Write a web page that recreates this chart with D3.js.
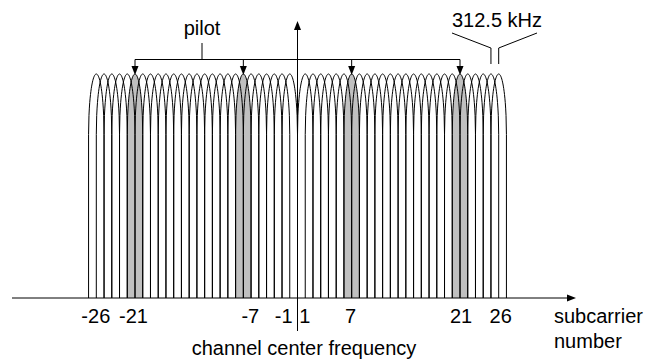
<!DOCTYPE html>
<html>
<head>
<meta charset="utf-8">
<script src="https://cdn.jsdelivr.net/npm/d3@7"></script>
<style>
  body { margin: 0; background: #fff; }
  text { font-family: "Liberation Sans", Arial, sans-serif; font-size: 20px; fill: #000; }
</style>
</head>
<body>
<div id="chart"></div>
<script>
// subcarrier indices (no DC carrier at 0)
const subcarriers = [-26, -25, -24, -23, -22, -21, -20, -19, -18, -17, -16, -15, -14,
  -13, -12, -11, -10, -9, -8, -7, -6, -5, -4, -3, -2, -1,
  1, 2, 3, 4, 5, 6, 7, 8, 9, 10, 11, 12, 13,
  14, 15, 16, 17, 18, 19, 20, 21, 22, 23, 24, 25, 26];
const pilots = [-21, -7, 7, 21];
const tickLabels = [-26, -21, -7, -1, 1, 7, 21, 26];
const spacingLabel = '312.5 kHz';
const spacingPair = [25, 26];

const width = 645;
const height = 361;

// small hand placement of some labels, as in the original drawing
const labelNudge = { '-26': -0.5, '-21': -1.5, '-7': 7, '-1': -6, '1': -0.5, '7': -1, '21': 1, '26': 2 };

const svg = d3.select('#chart')
  .append('svg')
  .attr('width', width)
  .attr('height', height);

// one subcarrier step is about 7.74 px, 0 sits on the vertical axis
const x = d3.scaleLinear()
  .domain([-21, 21])
  .range([135, 460]);

const y = d3.scaleLinear()
  .domain([0, 1])
  .range([298, 74]);

// arch: rounded top (half ellipse), straight legs down to the baseline
const topPart = 0.27;
function archPoints(k) {
  const pts = [[k - 1, 0]];
  for (let i = 0; i <= 40; i++) {
    const t = -1 + i / 20;
    const a = 1 - topPart * (1 - Math.sqrt(Math.max(0, 1 - t * t)));
    pts.push([k + t, a]);
  }
  pts.push([k + 1, 0]);
  return pts;
}

const line = d3.line()
  .x(d => x(d[0]))
  .y(d => y(d[1]));

// gray pilots first
svg.selectAll('.pilot')
  .data(pilots)
  .enter().append('path')
  .attr('class', 'pilot')
  .attr('d', d => line(archPoints(d)))
  .attr('fill', '#c0c0c0')
  .attr('stroke', 'none');

svg.selectAll('.arch')
  .data(subcarriers)
  .enter().append('path')
  .attr('class', 'arch')
  .attr('d', d => line(archPoints(d)))
  .attr('fill', 'none')
  .attr('stroke', '#000')
  .attr('stroke-width', 1);

// x axis with arrow
const y0 = y(0);
svg.append('line')
  .attr('x1', 12).attr('x2', 568)
  .attr('y1', y0).attr('y2', y0)
  .attr('stroke', '#000').attr('stroke-width', 1);
svg.append('path')
  .attr('d', `M576,${y0} L567,${y0 - 3.5} L567,${y0 + 3.5} Z`)
  .attr('fill', '#000');

// vertical axis (channel center)
const xc = x(0);
svg.append('line')
  .attr('x1', xc).attr('x2', xc)
  .attr('y1', 28).attr('y2', 331)
  .attr('stroke', '#000').attr('stroke-width', 1);
svg.append('path')
  .attr('d', `M${xc},21 L${xc - 3.5},30 L${xc + 3.5},30 Z`)
  .attr('fill', '#000');

// tick labels
svg.selectAll('.tick-label')
  .data(tickLabels)
  .enter().append('text')
  .attr('class', 'tick-label')
  .attr('x', d => x(d) + (labelNudge[String(d)] || 0))
  .attr('y', 323)
  .attr('text-anchor', 'middle')
  .text(d => d < 0 ? '-' + Math.abs(d) : String(d));

svg.append('text')
  .attr('x', 304)
  .attr('y', 355)
  .attr('text-anchor', 'middle')
  .text('channel center frequency');

svg.append('text').attr('x', 554).attr('y', 323).text('subcarrier');
svg.append('text').attr('x', 554).attr('y', 348).text('number');

// pilot bracket
const yb = 59.5;
svg.append('line')
  .attr('x1', x(pilots[0])).attr('x2', x(pilots[pilots.length - 1]))
  .attr('y1', yb).attr('y2', yb)
  .attr('stroke', '#000').attr('stroke-width', 1);
svg.selectAll('.pilot-arrow')
  .data(pilots)
  .enter().append('g')
  .attr('class', 'pilot-arrow')
  .each(function (d) {
    const g = d3.select(this);
    const px = x(d);
    g.append('line')
      .attr('x1', px).attr('x2', px)
      .attr('y1', yb).attr('y2', 68)
      .attr('stroke', '#000').attr('stroke-width', 1);
    g.append('path')
      .attr('d', `M${px},75 L${px - 3.5},66 L${px + 3.5},66 Z`)
      .attr('fill', '#000');
  });
svg.append('line')
  .attr('x1', 202).attr('x2', 202)
  .attr('y1', 43).attr('y2', yb)
  .attr('stroke', '#000').attr('stroke-width', 1);
svg.append('text')
  .attr('x', 202)
  .attr('y', 35)
  .attr('text-anchor', 'middle')
  .text('pilot');

// subcarrier spacing annotation
const xa = x(spacingPair[0]);
const xb = x(spacingPair[1]);
svg.append('text')
  .attr('x', 452)
  .attr('y', 27)
  .text(spacingLabel);
svg.append('path')
  .attr('d', `M452,33 L${xa},48 L${xa},64`)
  .attr('fill', 'none').attr('stroke', '#000').attr('stroke-width', 1);
svg.append('path')
  .attr('d', `M537,33 L${xb},48 L${xb},64`)
  .attr('fill', 'none').attr('stroke', '#000').attr('stroke-width', 1);
</script>
</body>
</html>
